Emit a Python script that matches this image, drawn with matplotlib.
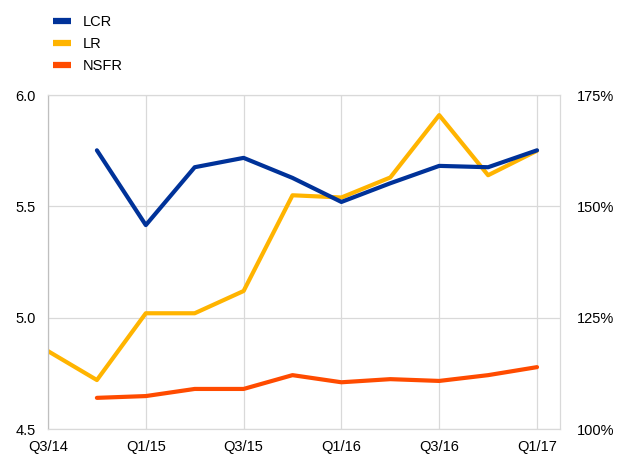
import matplotlib.pyplot as plt

plt.rcParams['font.family'] = ['Liberation Sans', 'DejaVu Sans']

quarters = ["Q3/14", "Q4/14", "Q1/15", "Q2/15", "Q3/15", "Q4/15",
            "Q1/16", "Q2/16", "Q3/16", "Q4/16", "Q1/17"]

# leverage ratio, left axis (%)
lr = [4.85, 4.72, 5.02, 5.02, 5.12, 5.55, 5.54, 5.63, 5.91, 5.64, 5.75]
# LCR and NSFR, right axis (%), no value for Q3/14
lcr = [None, 162.6, 145.8, 158.8, 160.9, 156.4, 151.0, 155.2, 159.1, 158.8, 162.6]
nsfr = [None, 107.0, 107.4, 109.0, 109.0, 112.1, 110.5, 111.2, 110.8, 112.1, 113.9]

blue = "#003299"
yellow = "#FFB400"
orange = "#FF4B00"

fig = plt.figure(figsize=(6.17, 4.55), dpi=100)
ax = fig.add_axes([0.0778, 0.0571, 0.8298, 0.7339])
ax2 = ax.twinx()

x = list(range(len(quarters)))
x_r = [i for i, v in zip(x, lcr) if v is not None]

ax.plot(x, lr, color=yellow, lw=3, solid_capstyle="round", label="LR", zorder=3)
ax2.plot(x_r, [v for v in lcr if v is not None], color=blue, lw=3,
         solid_capstyle="round", label="LCR")
ax2.plot(x_r, [v for v in nsfr if v is not None], color=orange, lw=3,
         solid_capstyle="round", label="NSFR")

ax.set_xlim(0, 10.47)
ax.set_ylim(4.5, 6.0)
ax.set_yticks([4.5, 5.0, 5.5, 6.0])
ax.set_yticklabels(["4.5", "5.0", "5.5", "6.0"])
ax2.set_ylim(100, 175)
ax2.set_yticks([100, 125, 150, 175])
ax2.set_yticklabels(["100%", "125%", "150%", "175%"])

ax.set_xticks(x[::2])
ax.set_xticklabels(quarters[::2])

ax.grid(True, color="#d9d9d9", lw=0.9)
ax.set_axisbelow(True)
for a in (ax, ax2):
    for s in a.spines.values():
        s.set_color("#d9d9d9")
    a.spines["left"].set_color("#bfbfbf")
    a.tick_params(length=0, labelsize=10.5, colors="black")
ax.tick_params(axis="y", pad=9)
ax.tick_params(axis="x", pad=8)
ax2.tick_params(axis="y", pad=12)

h1, l1 = ax2.get_legend_handles_labels()
h2, l2 = ax.get_legend_handles_labels()
handles = [h1[0], h2[0], h1[1]]
labels = [l1[0], l2[0], l1[1]]
leg = fig.legend(handles, labels, loc="upper left", bbox_to_anchor=(0.065, 0.995),
                 frameon=False, fontsize=10.5, handlelength=1.25, handletextpad=0.8,
                 labelspacing=0.55)
for h in leg.legend_handles:
    h.set_solid_capstyle("butt")
    h.set_linewidth(4.5)

plt.savefig("out.png", dpi=100)
